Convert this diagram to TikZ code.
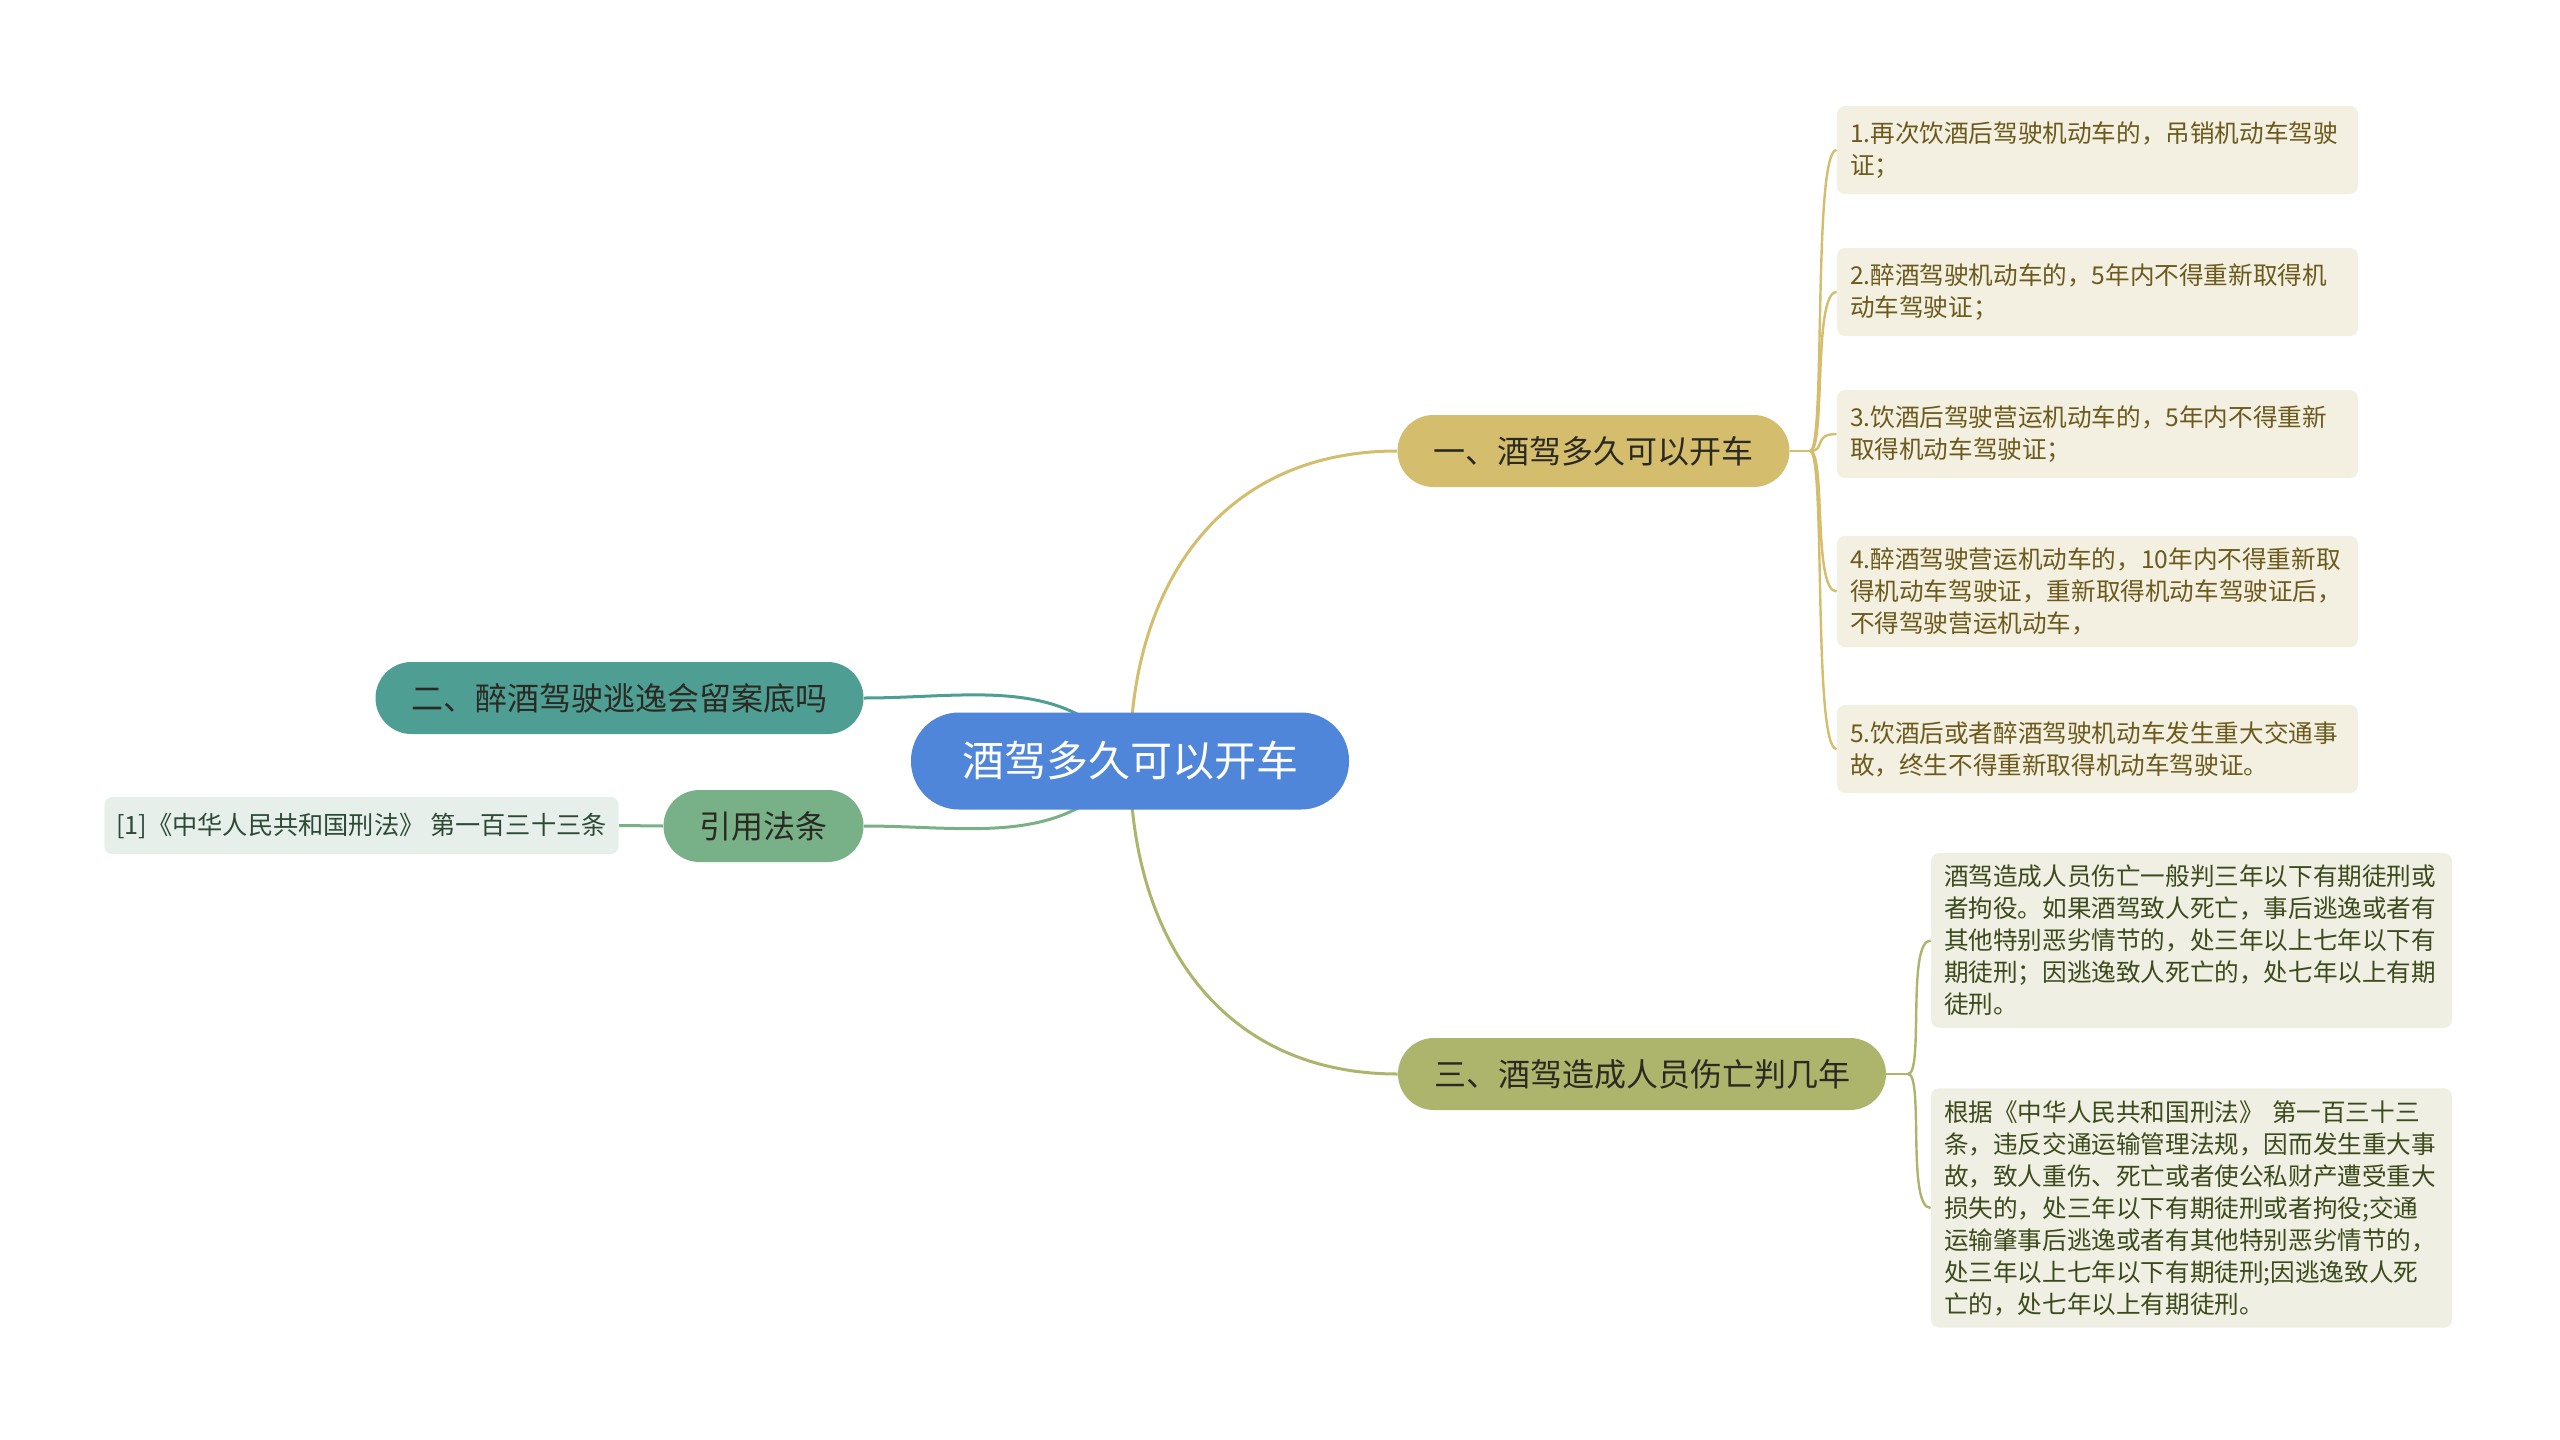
\documentclass[tikz,border=0pt]{standalone}
\usepackage{fontspec}
\setmainfont{Noto Sans CJK SC}
\usetikzlibrary{backgrounds}
\definecolor{rootblue}{HTML}{4F86D9}
\definecolor{gold}{HTML}{D4BD6C}
\definecolor{goldpale}{HTML}{F4F0E1}
\definecolor{goldtext}{HTML}{6B5A1C}
\definecolor{teal}{HTML}{4F9E94}
\definecolor{lawgreen}{HTML}{78B088}
\definecolor{lawpale}{HTML}{E6EFE9}
\definecolor{lawtext}{HTML}{2E4A36}
\definecolor{olive}{HTML}{ADB56C}
\definecolor{olivepale}{HTML}{EFEFE3}
\definecolor{olivetext}{HTML}{3D4A1C}
\definecolor{darktext}{HTML}{2B2A22}
\tikzset{
  rootnode/.style={fill=rootblue, text=white, rounded corners=24pt,
    inner xsep=25.5pt, minimum height=48.5pt,
    font=\fontsize{21pt}{25pt}\selectfont},
  branch/.style={rounded corners=18pt, inner xsep=18pt, minimum height=36pt,
    text=darktext, font=\fontsize{16pt}{19pt}\selectfont},
  leaf/.style={rounded corners=4pt, text width=247.5pt, align=left,
    inner xsep=6.5pt, inner ysep=6pt, minimum height=44pt,
    font=\fontsize{12.3pt}{16pt}\selectfont},
  goldleaf/.style={leaf, fill=goldpale, text=goldtext},
  oliveleaf/.style={leaf, fill=olivepale, text=olivetext},
  citeleaf/.style={rounded corners=4pt, fill=lawpale, text=lawtext,
    inner xsep=6pt, minimum height=28.5pt,
    font=\fontsize{12.6pt}{14pt}\selectfont},
  link/.style={line width=1.5pt},
  twig/.style={line width=1.2pt}
}
\begin{document}
\begin{tikzpicture}[x=0.5pt, y=-0.5pt]
      \useasboundingbox (0,0) rectangle (2560,1440);
      \draw
        (1130,761) node[rootnode] (root){酒驾多久可以开车}
        (1593.5,451) node[branch, fill=gold] (b1){一、酒驾多久可以开车}
        (619.5,698) node[branch, fill=teal] (b2){二、醉酒驾驶逃逸会留案底吗}
        (763.5,826) node[branch, fill=lawgreen] (b3){引用法条}
        (1642,1074) node[branch, fill=olive] (b4){三、酒驾造成人员伤亡判几年}
        (361.5,825.5) node[citeleaf] (cite){[1]《中华人民共和国刑法》 第一百三十三条}
        (2097.5,150) node[goldleaf] (g1){1.再次饮酒后驾驶机动车的，吊销机动车驾驶\\证；}
        (2097.5,292) node[goldleaf] (g2){2.醉酒驾驶机动车的，5年内不得重新取得机\\动车驾驶证；}
        (2097.5,434) node[goldleaf] (g3){3.饮酒后驾驶营运机动车的，5年内不得重新\\取得机动车驾驶证；}
        (2097.5,591.5) node[goldleaf] (g4){4.醉酒驾驶营运机动车的，10年内不得重新取\\得机动车驾驶证，重新取得机动车驾驶证后，\\不得驾驶营运机动车，}
        (2097.5,749) node[goldleaf] (g5){5.饮酒后或者醉酒驾驶机动车发生重大交通事\\故，终生不得重新取得机动车驾驶证。}
        (2191.5,940.5) node[oliveleaf] (o1){酒驾造成人员伤亡一般判三年以下有期徒刑或\\者拘役。如果酒驾致人死亡，事后逃逸或者有\\其他特别恶劣情节的，处三年以上七年以下有\\期徒刑；因逃逸致人死亡的，处七年以上有期\\徒刑。}
        (2191.5,1208) node[oliveleaf] (o2){根据《中华人民共和国刑法》 第一百三十三\\条，违反交通运输管理法规，因而发生重大事\\故，致人重伤、死亡或者使公私财产遭受重大\\损失的，处三年以下有期徒刑或者拘役;交通\\运输肇事后逃逸或者有其他特别恶劣情节的，\\处三年以上七年以下有期徒刑;因逃逸致人死\\亡的，处七年以上有期徒刑。};
      \coordinate (f1) at (1810,451);
      \coordinate (f4) at (1908,1074);
      \begin{scope}[on background layer]
        \draw[link, gold] (root.center) to[out=90, in=180, looseness=1.1] (b1.west);
        \draw[link, olive] (root.center) to[out=-90, in=180, looseness=1.1] (b4.west);
        \draw[link, teal] (root.center) to[out=125, in=0] (b2.east);
        \draw[link, lawgreen] (root.center) to[out=235, in=0] (b3.east);
        \draw[link, lawgreen] (b3.west) -- (cite.east);
        \draw[twig, gold] (b1.east) -- (f1);
        \foreach \g in {g1,g2,g3,g4,g5}
          \draw[twig, gold] (f1) .. controls +(16,0) and +(-24,0) .. (\g.west);
        \draw[twig, olive] (b4.east) -- (f4);
        \foreach \o in {o1,o2}
          \draw[twig, olive] (f4) .. controls +(16,0) and +(-24,0) .. (\o.west);
      \end{scope}
    \end{tikzpicture}
\end{document}
